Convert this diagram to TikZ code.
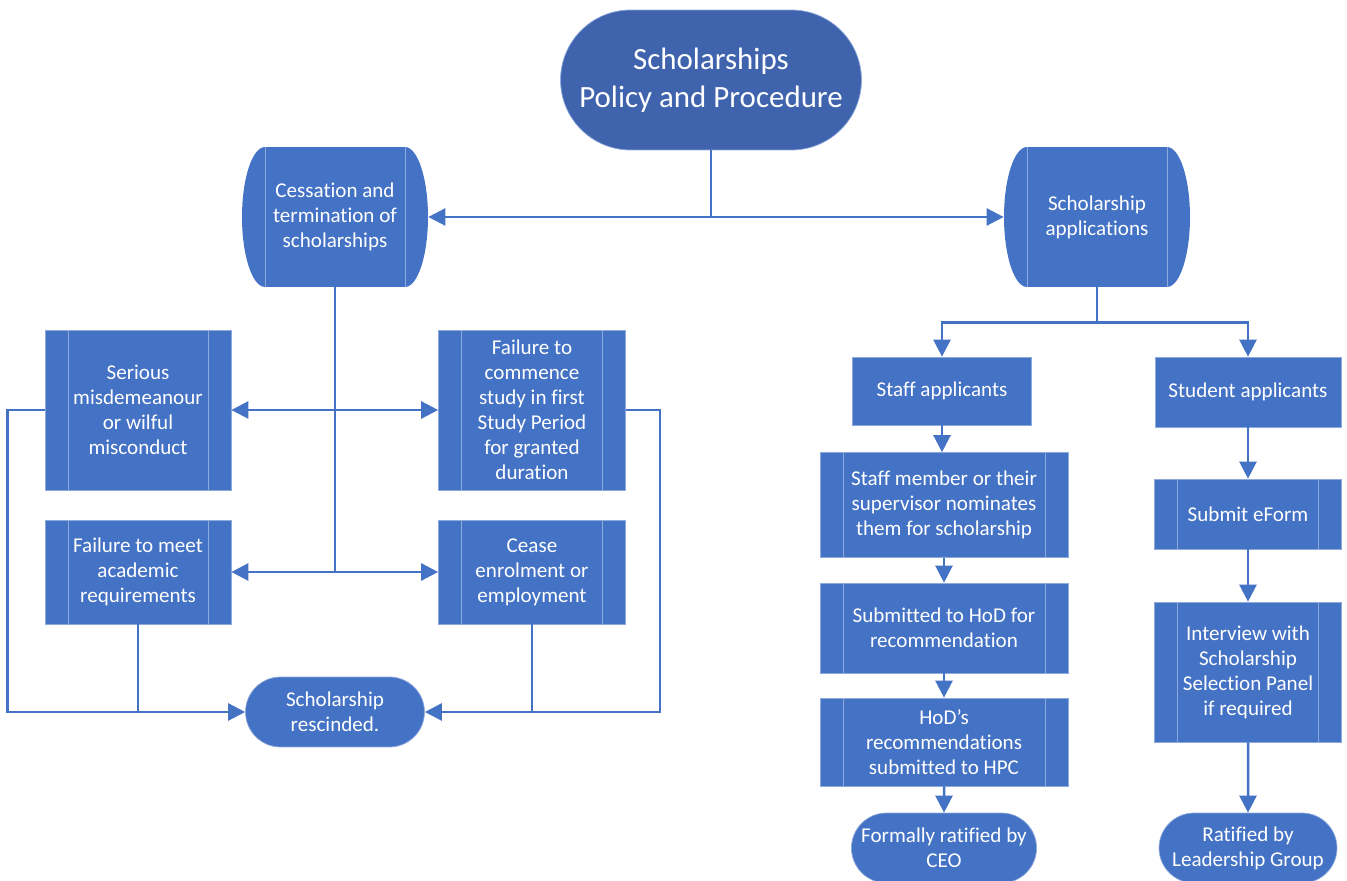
\documentclass[tikz,border=0pt]{standalone}
\usepackage{fontspec}
\setmainfont{Carlito}[Ligatures = NoCommon]
\usetikzlibrary{arrows.meta, shapes.misc}
\definecolor{boxblue}{HTML}{4472C4}
\definecolor{titleblue}{HTML}{3F63AC}
\definecolor{rimblue}{HTML}{8EA9DB}
\tikzset{
every node/.style = {text = white, align = center, inner sep = 2pt,
	font = \fontsize{12}{14.2}\selectfont},
process/.style = {rectangle, fill = boxblue, draw = rimblue, thin},
predefined/.style = {process, path picture = {
	\draw [rimblue, thin] ([xshift = 0.46cm] path picture bounding box.north west) 
		-- ([xshift = 0.46cm] path picture bounding box.south west);
	\draw [rimblue, thin] ([xshift = -0.46cm] path picture bounding box.north east) 
		-- ([xshift = -0.46cm] path picture bounding box.south east);}},
terminal/.style = {rounded rectangle, fill = boxblue, draw = rimblue, thin},
drum/.style = {rectangle, fill = white, minimum width = 3.72cm, minimum height = 2.8cm,
	path picture = {
	\fill [boxblue] ([xshift = 0.46cm] path picture bounding box.north west) 
		-- ([xshift = -0.46cm] path picture bounding box.north east) 
		arc [start angle = 90, end angle = -90, x radius = 0.46cm, y radius = 1.4cm] 
		-- ([xshift = 0.46cm] path picture bounding box.south west) 
		arc [start angle = 270, end angle = 90, x radius = 0.46cm, y radius = 1.4cm] -- cycle;
	\draw [rimblue, thin] ([xshift = 0.46cm] path picture bounding box.north west) 
		-- ([xshift = 0.46cm] path picture bounding box.south west);
	\draw [rimblue, thin] ([xshift = -0.46cm] path picture bounding box.north east) 
		-- ([xshift = -0.46cm] path picture bounding box.south east);}},
flow/.style = {-{Triangle[length = 0.34cm, width = 0.34cm]}, draw = boxblue, line width = 0.05cm},
link/.style = {draw = boxblue, line width = 0.05cm},
}

\begin{document}
\begin{tikzpicture}[x = 0.02cm, y = -0.02cm]

\useasboundingbox (0, 0) rectangle (1347, 881);

%% Title
\node at (711, 80) [terminal, fill = titleblue, minimum width = 6.16cm, minimum height = 2.8cm,
	font = \fontsize{17.6}{21.6}\selectfont] (title) {Scholarships\\Policy and Procedure};

%% Cessation branch
\node at (335, 217) [drum] (cess) {Cessation and\\termination of\\scholarships};

% Reasons
\node at (138, 410) [predefined, minimum width = 3.72cm, minimum height = 3.2cm] (serious) 
	{Serious\\misdemeanour\\or wilful\\misconduct};
\node at (138, 572) [predefined, minimum width = 3.72cm, minimum height = 2.08cm] (failmeet) 
	{Failure to meet\\academic\\requirements};
\node at (532, 410) [predefined, minimum width = 3.74cm, minimum height = 3.2cm] (failstart) 
	{Failure to\\commence\\study in first\\Study Period\\for granted\\duration};
\node at (532, 572) [predefined, minimum width = 3.74cm, minimum height = 2.08cm] (cease) 
	{Cease\\enrolment or\\employment};

% Outcome
\node at (335, 712) [terminal, minimum width = 3.72cm, minimum height = 1.4cm] (rescind) 
	{Scholarship\\rescinded.};

%% Applications branch
\node at (1097, 217) [drum] (apps) {Scholarship\\applications};

% Staff
\node at (942, 391) [process, minimum width = 3.58cm, minimum height = 1.36cm] (staff) 
	{Staff applicants};
\node at (944, 505) [predefined, minimum width = 4.96cm, minimum height = 2.1cm] (nominate) 
	{Staff member or their\\supervisor nominates\\them for scholarship};
\node at (944, 628) [predefined, minimum width = 4.96cm, minimum height = 1.8cm] (hod) 
	{Submitted to HoD for\\recommendation};
\node at (944, 742) [predefined, minimum width = 4.96cm, minimum height = 1.76cm] (hodrec) 
	{HoD’s\\recommendations\\submitted to HPC};
\node at (944, 848) [terminal, minimum width = 3.68cm, minimum height = 1.4cm] (ceo) 
	{Formally ratified by\\CEO};

% Students
\node at (1248, 392) [process, minimum width = 3.72cm, minimum height = 1.4cm] (student) 
	{Student applicants};
\node at (1248, 514) [predefined, minimum width = 3.74cm, minimum height = 1.4cm] (eform) 
	{Submit eForm};
\node at (1248, 672) [predefined, minimum width = 3.74cm, minimum height = 2.8cm] (interview) 
	{Interview with\\Scholarship\\Selection Panel\\if required};
\node at (1248, 848) [terminal, minimum width = 3.7cm, minimum height = 1.4cm] (leader) 
	{Ratified by\\Leadership Group};

%% Connectors
% From the title
\draw [flow] (title.south) |- (cess.east);
\draw [flow] (title.south) |- (apps.west);

% Cessation to reasons
\draw [flow] (cess.south) |- (failmeet.east);
\draw [flow] (cess.south) |- (cease.west);
\draw [flow] (cess.south |- serious.east) -- (serious.east);
\draw [flow] (cess.south |- failstart.west) -- (failstart.west);

% Reasons to outcome
\draw [flow] (serious.west) -- ++(-37, 0) |- (rescind.west);
\draw [link] (failmeet.south) -- (failmeet.south |- rescind.west);
\draw [flow] (failstart.east) -- ++(34, 0) |- (rescind.east);
\draw [link] (cease.south) -- (cease.south |- rescind.east);

% Applications
\draw [flow] (apps.south) -- ++(0, 35) -| (staff.north);
\draw [flow] (apps.south) -- ++(0, 35) -| (student.north);
\draw [flow] (staff.south) -- (staff.south |- nominate.north);
\draw [flow] (nominate) -- (hod);
\draw [flow] (hod) -- (hodrec);
\draw [flow] (hodrec) -- (ceo);
\draw [flow] (student) -- (eform);
\draw [flow] (eform) -- (interview);
\draw [flow] (interview) -- (leader);

\end{tikzpicture}
\end{document}
